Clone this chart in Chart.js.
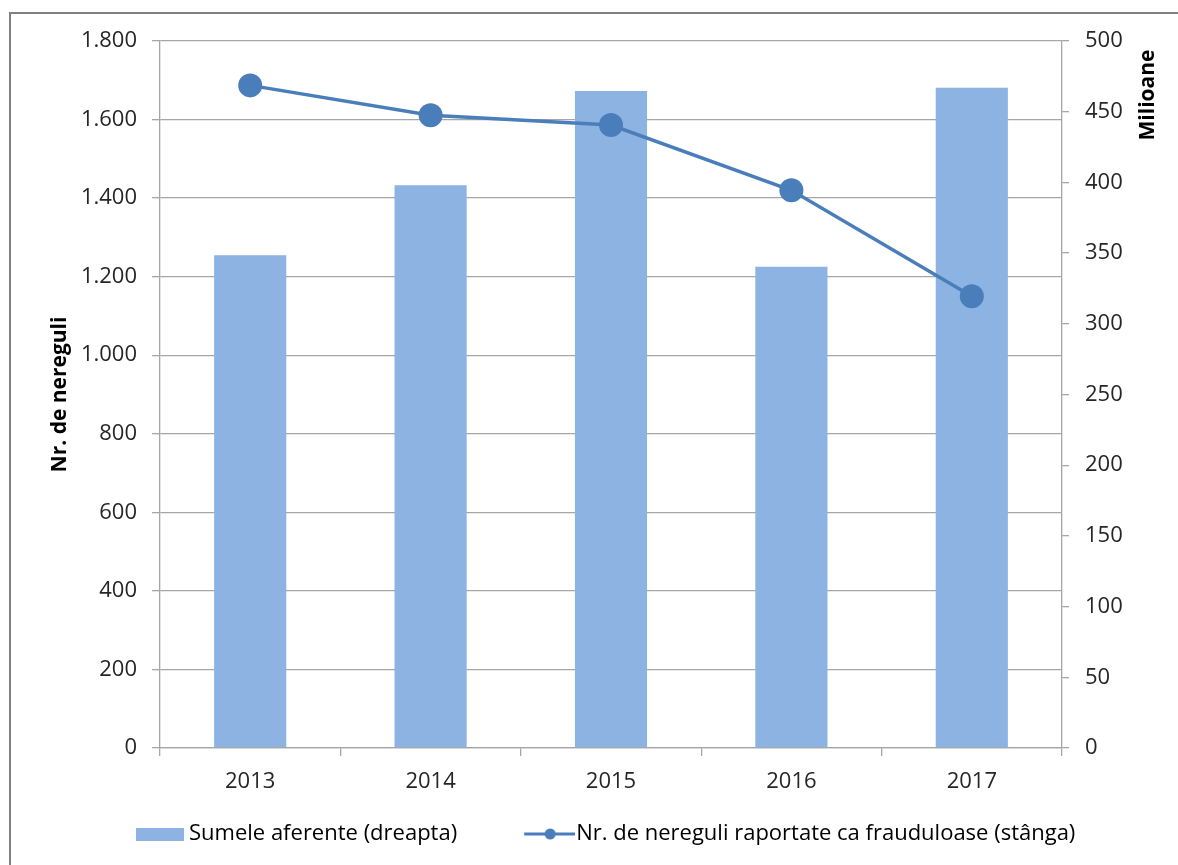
<!DOCTYPE html>
<html>
<head>
<meta charset="utf-8">
<script src="https://cdn.jsdelivr.net/npm/chart.js@4.4.1/dist/chart.umd.min.js"></script>
<style>
  html, body { margin: 0; padding: 0; background: #ffffff; }
  canvas { display: block; }
</style>
</head>
<body>
<canvas id="c" width="1178" height="865"></canvas>
<script>
// ---- data ----
const categories = ['2013', '2014', '2015', '2016', '2017'];
const sumeleAferente = [348.5, 398, 464.6, 340.3, 467];       // milioane (right axis)
const nrNereguli = [1687, 1611, 1586, 1420, 1150];           // number (left axis)
const seriesNames = ['Sumele aferente (dreapta)', 'Nr. de nereguli raportate ca frauduloase (stânga)'];
const leftTitle = 'Nr. de nereguli';
const rightTitle = 'Milioane';

const BAR_COLOR = '#8DB3E2';
const LINE_COLOR = '#4A7EBB';
const GRID_COLOR = '#A6A6A6';
const TEXT_COLOR = '#262626';
const FONT = "'Open Sans', 'DejaVu Sans', sans-serif";

function fmt(v) {
  return String(v).replace(/\B(?=(\d{3})+(?!\d))/g, '.');
}

// legend symbols (transparent lead-in keeps the Excel-like spacing)
const barImg = document.createElement('canvas');
barImg.width = 119; barImg.height = 13;
(function () { const g = barImg.getContext('2d'); g.fillStyle = BAR_COLOR; g.fillRect(67, 0, 48, 13); })();
const lineImg = document.createElement('canvas');
lineImg.width = 119; lineImg.height = 14;
(function () {
  const g = lineImg.getContext('2d');
  g.strokeStyle = LINE_COLOR; g.lineWidth = 3;
  g.beginPath(); g.moveTo(68, 7); g.lineTo(119, 7); g.stroke();
  g.fillStyle = LINE_COLOR; g.beginPath(); g.arc(94, 7, 5.5, 0, Math.PI * 2); g.fill();
})();

function drawVTitle(ctx, text, x, y) {
  ctx.save();
  ctx.translate(x, y);
  ctx.rotate(-Math.PI / 2);
  ctx.font = "bold 21px " + FONT;
  ctx.fillStyle = '#000000';
  ctx.textAlign = 'center';
  ctx.textBaseline = 'middle';
  ctx.fillText(text, 0, 0);
  ctx.restore();
}

const framePlugin = {
  id: 'frame',
  beforeDraw(chart) {
    const ctx = chart.ctx;
    ctx.save();
    ctx.strokeStyle = '#808080';
    ctx.lineWidth = 2;
    ctx.beginPath();
    ctx.moveTo(10, 865);
    ctx.lineTo(10, 13);
    ctx.lineTo(1178, 13);
    ctx.stroke();
    ctx.restore();
  },
  afterDraw(chart) {
    const a = chart.chartArea;
    drawVTitle(chart.ctx, leftTitle, 60, (a.top + a.bottom) / 2);
    drawVTitle(chart.ctx, rightTitle, 1148, 95);
  }
};

new Chart(document.getElementById('c'), {
  data: {
    labels: categories,
    datasets: [
      {
        type: 'line',
        label: seriesNames[1],
        data: nrNereguli,
        yAxisID: 'y',
        borderColor: LINE_COLOR,
        backgroundColor: LINE_COLOR,
        borderWidth: 3.5,
        pointRadius: 12,
        pointBackgroundColor: LINE_COLOR,
        pointBorderColor: LINE_COLOR,
        pointBorderWidth: 0,
        tension: 0,
        order: 0
      },
      {
        type: 'bar',
        label: seriesNames[0],
        data: sumeleAferente,
        yAxisID: 'y1',
        backgroundColor: BAR_COLOR,
        borderWidth: 0,
        barPercentage: 0.4,
        categoryPercentage: 1.0,
        order: 1
      }
    ]
  },
  options: {
    responsive: false,
    animation: false,
    layout: { padding: { left: 70, right: 0, top: 41, bottom: 10 } },
    plugins: {
      tooltip: { enabled: false },
      legend: {
        position: 'bottom',
        align: 'start',
        labels: {
          usePointStyle: true,
          pointStyleWidth: 99,
          padding: 9,
          color: TEXT_COLOR,
          font: { family: FONT, size: 22 },
          generateLabels() {
            return [
              { text: seriesNames[0], pointStyle: barImg, datasetIndex: 1, hidden: false, lineWidth: 0 },
              { text: seriesNames[1], pointStyle: lineImg, datasetIndex: 0, hidden: false, lineWidth: 0 }
            ];
          }
        }
      }
    },
    scales: {
      x: {
        offset: true,
        grid: { offset: true, drawOnChartArea: false, color: GRID_COLOR, lineWidth: 1.3, tickLength: 8 },
        border: { color: GRID_COLOR, width: 1.3 },
        ticks: { color: TEXT_COLOR, font: { family: FONT, size: 22 }, padding: 13, maxRotation: 0 },
        afterFit(s) { s.height = 66; }
      },
      y: {
        position: 'left',
        min: 0, max: 1800,
        ticks: { stepSize: 200, color: TEXT_COLOR, font: { family: FONT, size: 22 }, padding: 15, callback: v => fmt(v) },
        grid: { color: GRID_COLOR, lineWidth: 1.3, tickLength: 8 },
        border: { color: GRID_COLOR, width: 1.3 },
        afterFit(s) { s.width = 90; }
      },
      y1: {
        position: 'right',
        min: 0, max: 500,
        ticks: { stepSize: 50, color: TEXT_COLOR, font: { family: FONT, size: 22 }, padding: 16 },
        grid: { drawOnChartArea: false, color: GRID_COLOR, lineWidth: 1.3, tickLength: 7 },
        border: { color: GRID_COLOR, width: 1.3 },
        afterFit(s) { s.width = 116; }
      }
    }
  },
  plugins: [framePlugin]
});
</script>
</body>
</html>
